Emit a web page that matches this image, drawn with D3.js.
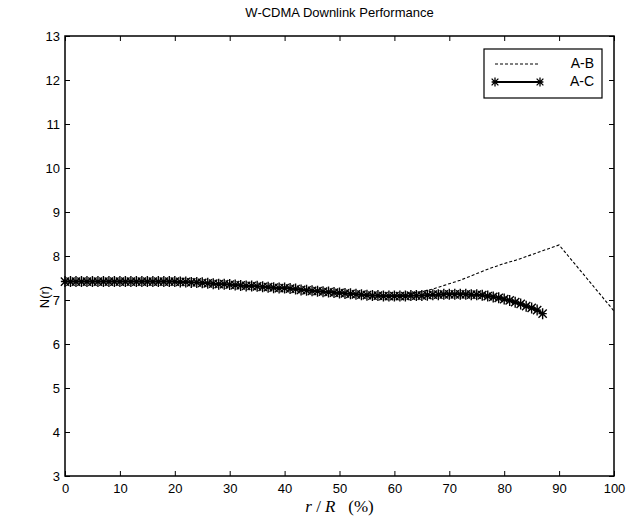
<!DOCTYPE html>
<html>
<head>
<meta charset="utf-8">
<script src="https://cdn.jsdelivr.net/npm/d3@7"></script>
<style>
  body { margin: 0; background: #fff; }
  text { font-family: "Liberation Sans", Arial, sans-serif; fill: #000; }
</style>
</head>
<body>
<div id="chart"></div>
<script>
// DATA ------------------------------
const xTicks = [0, 10, 20, 30, 40, 50, 60, 70, 80, 90, 100];
const yTicks = [3, 4, 5, 6, 7, 8, 9, 10, 11, 12, 13];

// A-B (dashed)
const abX = [0, 5, 10, 15, 20, 25, 30, 35, 40, 45, 50, 55, 60, 62, 65, 67, 70, 72, 75, 77, 80, 82, 85, 87, 90, 100];
const abY = [7.42, 7.42, 7.42, 7.42, 7.42, 7.39, 7.35, 7.31, 7.27, 7.21, 7.16, 7.11, 7.10, 7.13, 7.19, 7.25, 7.37, 7.45, 7.60, 7.70, 7.83, 7.90, 8.03, 8.12, 8.25, 6.75];

// A-C (solid with * markers)
const acX = [0, 1, 2, 3, 4, 5, 6, 7, 8, 9,
  10, 11, 12, 13, 14, 15, 16, 17, 18, 19,
  20, 21, 22, 23, 24, 25, 26, 27, 28, 29,
  30, 31, 32, 33, 34, 35, 36, 37, 38, 39,
  40, 41, 42, 43, 44, 45, 46, 47, 48, 49,
  50, 51, 52, 53, 54, 55, 56, 57, 58, 59,
  60, 61, 62, 63, 64, 65, 66, 67, 68, 69,
  70, 71, 72, 73, 74, 75, 76, 77, 78, 79,
  80, 81, 82, 83, 84, 85, 86, 87];
const acY = [7.42, 7.42, 7.42, 7.42, 7.42, 7.42, 7.42, 7.42, 7.42, 7.42,
  7.42, 7.42, 7.42, 7.42, 7.42, 7.42, 7.42, 7.42, 7.42, 7.42,
  7.42, 7.41, 7.41, 7.40, 7.40, 7.39, 7.38, 7.37, 7.36, 7.36,
  7.35, 7.34, 7.33, 7.32, 7.32, 7.31, 7.30, 7.29, 7.28, 7.27,
  7.27, 7.26, 7.25, 7.23, 7.22, 7.21, 7.20, 7.19, 7.18, 7.17,
  7.16, 7.15, 7.14, 7.13, 7.12, 7.11, 7.10, 7.10, 7.09, 7.09,
  7.09, 7.09, 7.09, 7.10, 7.10, 7.10, 7.11, 7.12, 7.12, 7.13,
  7.13, 7.13, 7.13, 7.13, 7.12, 7.12, 7.11, 7.09, 7.07, 7.05,
  7.02, 6.99, 6.95, 6.91, 6.86, 6.82, 6.77, 6.69];

// CHART INIT ------------------------------
const W = 641, H = 519;
const margin = { top: 36, right: 27, bottom: 43, left: 65 };
const width = W - margin.left - margin.right;
const height = H - margin.top - margin.bottom;

const svg = d3.select('#chart').append('svg')
  .attr('width', W).attr('height', H);

const g = svg.append('g')
  .attr('transform', `translate(${margin.left},${margin.top})`);

const x = d3.scaleLinear().domain([0, 100]).range([0, width]);
const y = d3.scaleLinear().domain([3, 13]).range([height, 0]);

// axes (MATLAB style box, ticks inward)
const tick = 5;
const styleAxis = sel => {
  sel.select('.domain').remove();
  sel.selectAll('line').attr('stroke', '#000').attr('stroke-width', 1);
  sel.selectAll('text').attr('font-size', 13);
};
g.append('g').attr('transform', `translate(0,${height})`)
  .call(d3.axisBottom(x).tickValues(xTicks).tickSizeInner(-tick).tickSizeOuter(0).tickPadding(8))
  .call(styleAxis);
g.append('g')
  .call(d3.axisTop(x).tickValues(xTicks).tickSizeInner(-tick).tickSizeOuter(0).tickFormat(''))
  .call(styleAxis);
g.append('g')
  .call(d3.axisLeft(y).tickValues(yTicks).tickSizeInner(-tick).tickSizeOuter(0).tickPadding(5))
  .call(styleAxis);
g.append('g').attr('transform', `translate(${width},0)`)
  .call(d3.axisRight(y).tickValues(yTicks).tickSizeInner(-tick).tickSizeOuter(0).tickFormat(''))
  .call(styleAxis);

g.append('rect')
  .attr('width', width).attr('height', height)
  .attr('fill', 'none').attr('stroke', '#000').attr('stroke-width', 1.5);

// lines
const line = d3.line().x(d => x(d[0])).y(d => y(d[1]));
const abData = abX.map((v, i) => [v, abY[i]]);
const acData = acX.map((v, i) => [v, acY[i]]);

g.append('path').datum(abData)
  .attr('d', line)
  .attr('fill', 'none').attr('stroke', '#000').attr('stroke-width', 1.1)
  .attr('stroke-dasharray', '3,2');

g.append('path').datum(acData)
  .attr('d', line)
  .attr('fill', 'none').attr('stroke', '#000').attr('stroke-width', 2);

// '*' marker
function star(sel, r, sw) {
  const d = r * 0.75;
  const p = `M0,${-r}V${r}M${-d},0H${d}M${-d},${-d}L${d},${d}M${-d},${d}L${d},${-d}`;
  sel.append('path').attr('d', p).attr('stroke', '#000').attr('stroke-width', sw).attr('fill', 'none');
}
g.selectAll('.mk').data(acData).enter().append('g')
  .attr('class', 'mk')
  .attr('transform', d => `translate(${x(d[0])},${y(d[1])})`)
  .each(function () { star(d3.select(this), 5.5, 1.4); });

// title & labels
svg.append('text')
  .attr('x', margin.left + width / 2).attr('y', 17)
  .attr('text-anchor', 'middle').attr('font-size', 13)
  .text('W-CDMA Downlink Performance');

svg.append('text')
  .attr('transform', `translate(49,297) rotate(-90)`)
  .attr('text-anchor', 'middle').attr('font-size', 13)
  .text('N(r)');

const xl = svg.append('text')
  .attr('x', margin.left + width / 2).attr('y', 512)
  .attr('text-anchor', 'middle')
  .style('font-family', '"Liberation Serif", "Times New Roman", serif')
  .attr('font-size', 17);
xl.append('tspan').attr('font-style', 'italic').text('r');
xl.append('tspan').text(' / ');
xl.append('tspan').attr('font-style', 'italic').text('R');
xl.append('tspan').text('\u00a0\u00a0 (%)');

// legend
const lg = svg.append('g');
lg.append('rect')
  .attr('x', 484).attr('y', 49).attr('width', 118).attr('height', 49)
  .attr('fill', '#fff').attr('stroke', '#000').attr('stroke-width', 1.2);
lg.append('line')
  .attr('x1', 495).attr('x2', 540).attr('y1', 64).attr('y2', 64)
  .attr('stroke', '#000').attr('stroke-dasharray', '3,2');
lg.append('line')
  .attr('x1', 495).attr('x2', 540).attr('y1', 82).attr('y2', 82)
  .attr('stroke', '#000').attr('stroke-width', 1.8);
[495, 540].forEach(px => {
  const m = lg.append('g').attr('transform', `translate(${px},82)`);
  star(m, 4.5, 1.3);
});
lg.append('text').attr('x', 594).attr('y', 68).attr('text-anchor', 'end')
  .attr('font-size', 14).text('A-B');
lg.append('text').attr('x', 594).attr('y', 86).attr('text-anchor', 'end')
  .attr('font-size', 14).text('A-C');
</script>
</body>
</html>
